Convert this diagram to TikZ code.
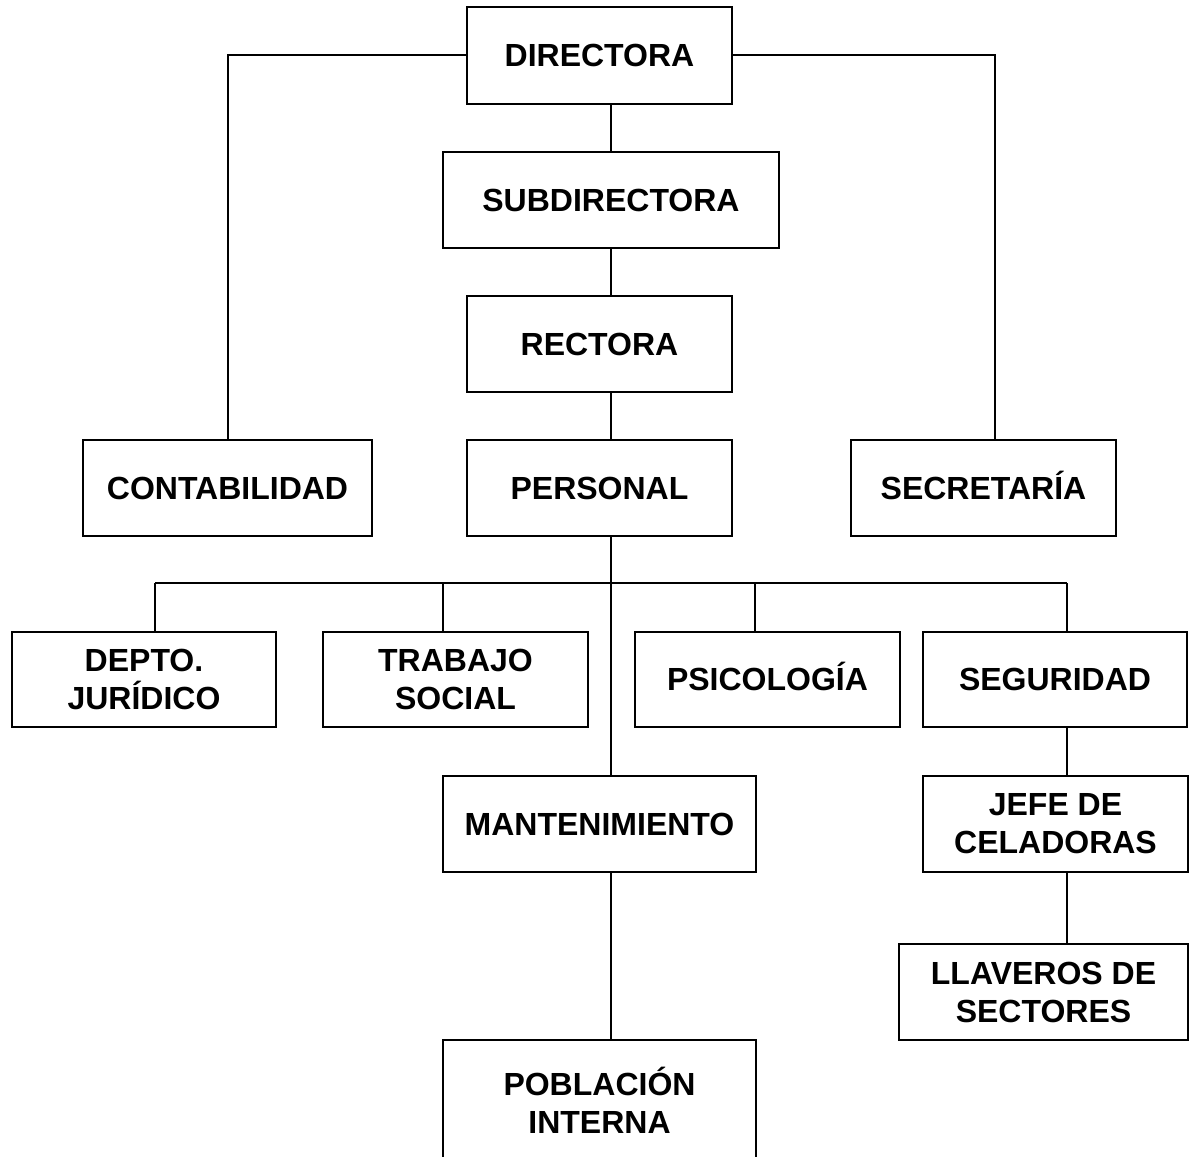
\documentclass[tikz,border=0pt]{standalone}
\usepackage{fontspec}
\setmainfont{Liberation Sans}
\begin{document}
\begin{tikzpicture}[x=1pt,y=-1pt,line width=2pt,
  box/.style={draw,rectangle,inner sep=0pt,align=center,
    font=\fontsize{32}{38}\selectfont\bfseries},
  conn/.style={draw,line width=2pt}]
\useasboundingbox (0,0) rectangle (1190,1156);
\node[box,minimum width=265pt,minimum height=97pt] (dir) at (599.5,55.5) {DIRECTORA};
\node[box,minimum width=336pt,minimum height=96pt] (sub) at (611,200) {SUBDIRECTORA};
\node[box,minimum width=265pt,minimum height=96pt] (rec) at (599.5,344) {RECTORA};
\node[box,minimum width=289pt,minimum height=96pt] (con) at (227.5,488) {CONTABILIDAD};
\node[box,minimum width=265pt,minimum height=96pt] (per) at (599.5,488) {PERSONAL};
\node[box,minimum width=265pt,minimum height=96pt] (sec) at (983.5,488) {SECRETAR\smash{Í}A};
\node[box,minimum width=264pt,minimum height=95pt] (dep) at (144,679.5) {DEPTO.\\JUR\smash{Í}DICO};
\node[box,minimum width=265pt,minimum height=95pt] (tra) at (455.5,679.5) {TRABAJO\\SOCIAL};
\node[box,minimum width=265pt,minimum height=95pt] (psi) at (767.5,679.5) {PSICOLOG\smash{Í}A};
\node[box,minimum width=264pt,minimum height=95pt] (seg) at (1055,679.5) {SEGURIDAD};
\node[box,minimum width=313pt,minimum height=96pt] (man) at (599.5,824) {MANTENIMIENTO};
\node[box,minimum width=265pt,minimum height=96pt] (jef) at (1055.5,824) {JEFE DE\\CELADORAS};
\node[box,minimum width=289pt,minimum height=96pt] (lla) at (1043.5,992) {LLAVEROS DE\\SECTORES};
\node[box,minimum width=313pt,minimum height=126pt] (pob) at (599.5,1103) {POBLACI\smash{Ó}N\\INTERNA};
\coordinate (spine) at (611,0);
\coordinate (secx) at (995,0);
\coordinate (bA) at (155,583);
\coordinate (bB) at (443,583);
\coordinate (bC) at (755,583);
\coordinate (bD) at (1067,583);
\draw[conn] (dir.south -| spine) -- (sub.north -| spine);
\draw[conn] (sub.south -| spine) -- (rec.north -| spine);
\draw[conn] (rec.south -| spine) -- (per.north -| spine);
\draw[conn] (per.south -| spine) -- (man.north -| spine);
\draw[conn] (man.south -| spine) -- (pob.north -| spine);
\draw[conn] (dir.west) -| (con.north);
\draw[conn] (dir.east) -| (sec.north -| secx);
\draw[conn] (bA) -- (bD);
\draw[conn] (bA) -- (dep.north -| bA);
\draw[conn] (bB) -- (tra.north -| bB);
\draw[conn] (bC) -- (psi.north -| bC);
\draw[conn] (bD) -- (seg.north -| bD);
\draw[conn] (seg.south -| bD) -- (jef.north -| bD);
\draw[conn] (jef.south -| bD) -- (lla.north -| bD);
\end{tikzpicture}
\end{document}
